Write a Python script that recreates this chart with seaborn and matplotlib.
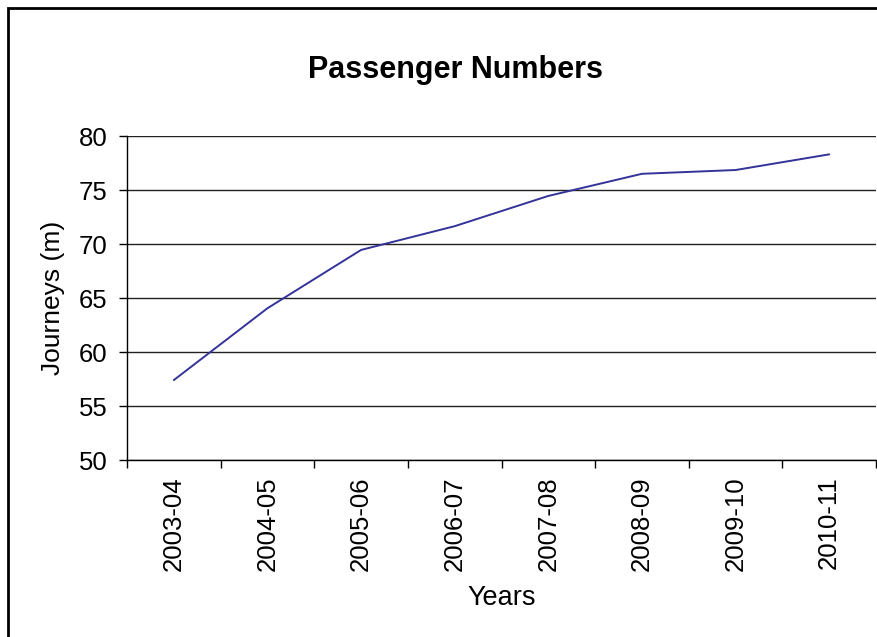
import matplotlib
matplotlib.use("Agg")
import matplotlib.pyplot as plt
import seaborn as sns
import pandas as pd
from matplotlib.patches import Rectangle

years = ["2003-04", "2004-05", "2005-06", "2006-07", "2007-08", "2008-09", "2009-10", "2010-11"]
journeys = [57.4, 64.05, 69.45, 71.65, 74.45, 76.5, 76.85, 78.3]
y_ticks = [50, 55, 60, 65, 70, 75, 80]

sns.set_theme(style="white")
plt.rcParams['font.family'] = ['Liberation Sans', 'DejaVu Sans']
plt.rcParams['text.color'] = 'black'
plt.rcParams['axes.labelcolor'] = 'black'
plt.rcParams['xtick.color'] = 'black'
plt.rcParams['ytick.color'] = 'black'

df = pd.DataFrame({"Years": years, "Journeys": journeys})

W, H = 877, 637
fig = plt.figure(figsize=(W / 100, H / 100), dpi=100)
ax = fig.add_axes([127 / W, 1 - 460 / H, (876 - 127) / W, (460 - 136) / H])

sns.lineplot(data=df, x="Years", y="Journeys", ax=ax, color="#333399", linewidth=1.4, sort=False)

n = len(years)
ax.set_xlim(-0.5, n - 0.5)
ax.set_ylim(50, 80)
ax.set_yticks(y_ticks)
ax.set_yticklabels([str(v) for v in y_ticks], fontsize=18.5)
ax.set_xticks([i - 0.5 for i in range(n + 1)])
ax.set_xticklabels([])
ax.set_xticks(list(range(n)), minor=True)
ax.set_xticklabels(years, minor=True, rotation=90, fontsize=18.5)
ax.tick_params(axis="x", which="major", length=5.8, width=1, color="black", direction="out", bottom=True)
ax.tick_params(axis="x", which="minor", length=0, pad=12)
ax.tick_params(axis="y", length=5.8, width=1, color="black", direction="out", left=True, pad=8)

for v in y_ticks:
    ax.axhline(v, color="#222222", linewidth=1.0, zorder=0)

for s in ["left", "bottom"]:
    ax.spines[s].set_color("black")
    ax.spines[s].set_linewidth(1.0)
for s in ["top", "right"]:
    ax.spines[s].set_visible(False)

ax.set_xlabel("Years", fontsize=19.5, labelpad=10)
ax.set_ylabel("Journeys (m)", fontsize=19, labelpad=10)

fig.text(456 / W, 1 - 70 / H, "Passenger Numbers", ha="center", va="center",
         fontsize=22, fontweight="bold")

fig.patches.append(Rectangle((8 / W, -0.05), 1.1, 1 - 8 / H + 0.05, transform=fig.transFigure,
                             fill=False, edgecolor="black", linewidth=2))

fig.savefig("out.png", dpi=100)
